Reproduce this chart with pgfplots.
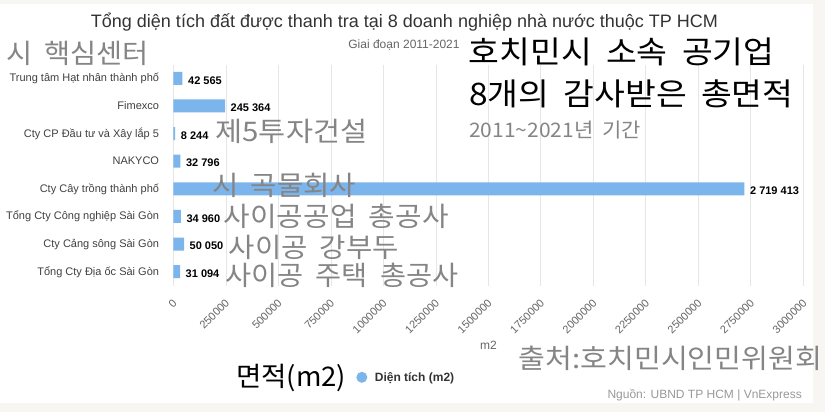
\documentclass[border=0pt]{standalone}
\usepackage{fontspec}
\setmainfont{Liberation Sans}
\newfontfamily\kr{Noto Sans CJK KR}[WordSpace=1.9]
\usepackage{pgfplots}
\pgfplotsset{compat=1.18}

\definecolor{hcblue}{HTML}{7CB5EC}
\definecolor{pagebg}{HTML}{F8F6F2}
\definecolor{krgray}{HTML}{858585}
\definecolor{lbl}{HTML}{404040}
\definecolor{titlec}{HTML}{333333}
\definecolor{tickc}{HTML}{666666}
\definecolor{srcc}{HTML}{999999}
\definecolor{gridc}{HTML}{E6E6E6}

\newcommand{\px}[1]{\fontsize{#1}{#1}\selectfont}

\begin{document}
\begin{tikzpicture}[x=1pt,y=1pt]
\fill[pagebg] (0,0) rectangle (825,412);
\fill[white] (0,9) rectangle (813,408);

\begin{axis}[
  at={(173.5pt,126.5pt)}, anchor=south west,
  scale only axis, width=629.8pt, height=221pt,
  xbar, bar width=13pt,
  xmin=0, xmax=3000000, ymin=0.5, ymax=8.5, y dir=reverse,
  enlargelimits=false, clip=false,
  axis line style={draw=none}, tick style={draw=none},
  xmajorgrids, major grid style={gridc, line width=0.8pt},
  scaled x ticks=false,
  xtick={0,250000,500000,750000,1000000,1250000,1500000,1750000,2000000,2250000,2500000,2750000,3000000},
  xticklabels={0,250000,500000,750000,1000000,1250000,1500000,1750000,2000000,2250000,2500000,2750000,3000000},
  xticklabel style={xshift=1.5pt, yshift=-15.5pt, rotate=45, anchor=east, inner sep=0pt, font=\px{11}, text=tickc},
  ytick={1,2,3,4,5,6,7,8},
  yticklabels={Trung tâm Hạt nhân thành phố, Fimexco, Cty CP Đầu tư và Xây lắp 5, NAKYCO, Cty Cây trồng thành phố, Tổng Cty Công nghiệp Sài Gòn, Cty Cảng sông Sài Gòn, Tổng Cty Địa ốc Sài Gòn},
  yticklabel style={anchor=east, inner sep=0pt, xshift=-10pt, font=\px{11}, text=lbl, text height=9pt, text depth=2pt},
  xlabel={m2},
  xlabel style={at={(axis description cs:0.5,-0.269)}, anchor=center, font=\px{12}, text=tickc},
  point meta=explicit symbolic,
  nodes near coords,
  every node near coord/.append style={font=\bfseries\px{11}, text=black, inner sep=0pt, xshift=5.5pt, yshift=-2pt, anchor=west},
  legend style={at={(axis description cs:0.290,-0.4154)}, anchor=west, draw=none, fill=none, inner sep=0pt, font=\bfseries\px{12}, text=titlec},
  legend image code/.code={\fill[hcblue] (5.5pt,0pt) circle (5.5pt); \path (16.5pt,0pt);},
]
\addplot[fill=hcblue, draw=none] coordinates {
  (42565,1) [42 565]
  (245364,2) [245 364]
  (8244,3) [8 244]
  (32796,4) [32 796]
  (2719413,5) [2 719 413]
  (34960,6) [34 960]
  (50050,7) [50 050]
  (31094,8) [31 094]
};
\addlegendentry{Diện tích (m2)}
\end{axis}

% titles and source
\node[anchor=base, font=\px{18}, text=titlec, inner sep=0pt] at (404.5,384) {Tổng diện tích đất được thanh tra tại 8 doanh nghiệp nhà nước thuộc TP HCM};
\node[anchor=base, font=\px{12}, text=tickc, inner sep=0pt] at (404,363) {Giai đoạn 2011-2021};
\node[anchor=base east, font=\px{12}, text=srcc, inner sep=0pt] at (802,13) {Nguồn: UBND TP HCM | VnExpress};

% Korean overlay text
\begin{scope}[every node/.style={anchor=base west, inner sep=0pt, transform shape}]
\node[font=\kr\px{27}, text=krgray, xscale=1.05] at (6,348.2) {시 핵심센터};
\node[font=\kr\px{31}, text=black, xscale=1.08] at (468.5,348.7) {호치민시 소속 공기업};
\node[font=\kr\px{31}, text=black, xscale=1.08] at (469,306.2) {8개의 감사받은 총면적};
\node[font=\kr\px{20}, text=krgray, xscale=1.05] at (469,274.4) {2011\textasciitilde 2021년 기간};
\node[font=\kr\px{27}, text=krgray, xscale=1.09] at (215.3,270.2) {제5투자건설};
\node[font=\kr\px{27}, text=krgray, xscale=1.06] at (212,216.7) {시 곡물회사};
\node[font=\kr\px{27}, text=krgray, xscale=1.07] at (223.6,185.2) {사이공공업 총공사};
\node[font=\kr\px{27}, text=krgray, xscale=1.06] at (228.6,154.7) {사이공 강부두};
\node[font=\kr\px{27}, text=krgray, xscale=1.05] at (225.3,126.2) {사이공 주택 총공사};
\node[font=\kr\px{27}, text=black, xscale=1.02] at (236,25.7) {면적(m2)};
\node[font=\kr\px{27}, text=krgray, xscale=1.08] at (518.6,43.7) {출처:호치민시인민위원회};
\end{scope}

\pgfresetboundingbox
\useasboundingbox (0,0) rectangle (825,412);
\end{tikzpicture}
\end{document}
